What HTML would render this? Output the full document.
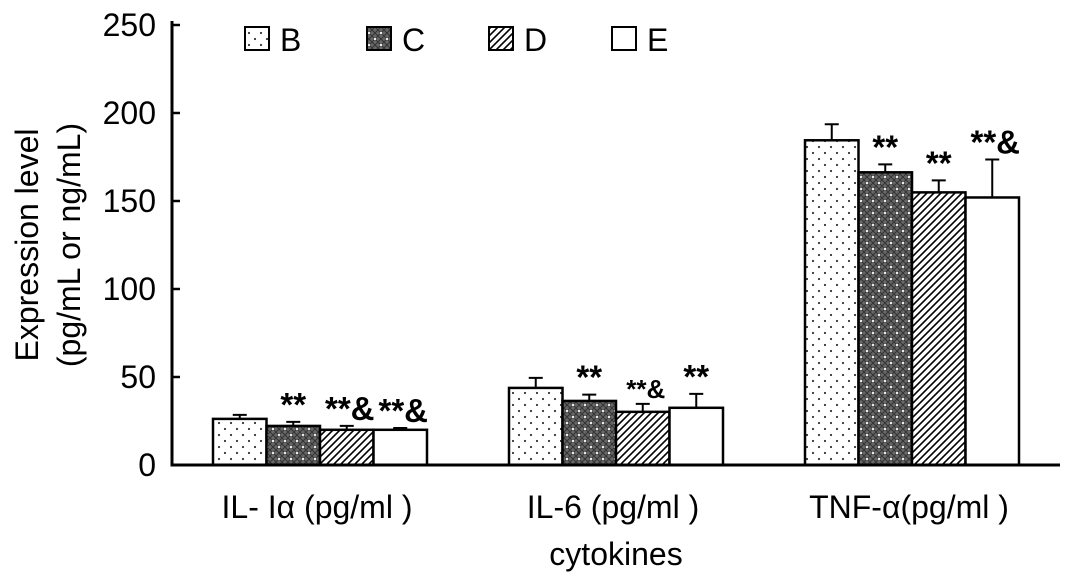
<!DOCTYPE html>
<html><head><meta charset="utf-8"><style>
html,body{margin:0;padding:0;background:#fff;}
svg{display:block;font-family:"Liberation Sans",Arial,sans-serif;}
</style></head><body>
<svg id="chart" width="1077" height="584" viewBox="0 0 1077 584" xmlns="http://www.w3.org/2000/svg">
<defs>
<pattern id="pB" patternUnits="userSpaceOnUse" width="12" height="12"><rect width="12" height="12" fill="#fff"/><circle cx="3" cy="3" r="1.1" fill="#333"/><circle cx="9" cy="9" r="1.1" fill="#333"/></pattern>
<pattern id="pC" patternUnits="userSpaceOnUse" width="12" height="12"><rect width="12" height="12" fill="#666"/><path d="M0 0L12 12M6 0L12 6M0 6L6 12M12 0L0 12M6 0L0 6M12 6L6 12" stroke="#333" stroke-width="1"/><circle cx="3" cy="3" r="1.1" fill="#fff"/><circle cx="9" cy="9" r="1.1" fill="#fff"/></pattern>
<pattern id="pD" patternUnits="userSpaceOnUse" width="7" height="7"><rect width="7" height="7" fill="#fff"/><path d="M-1 8L8 -1M-3 3L3 -3M4 10L10 4" stroke="#000" stroke-width="1.6"/></pattern>
</defs>
<g id="plot"></g>
</svg>
<script>
const categories = ["IL- Iα (pg/ml )", "IL-6 (pg/ml )", "TNF-α(pg/ml )"];
const seriesNames = ["B", "C", "D", "E"];
const valuesB = [26.2, 43.8, 184.5];
const valuesC = [22.2, 36.4, 166.3];
const valuesD = [20.0, 30.2, 154.9];
const valuesE = [20.0, 32.5, 152.0];
const errB = [2.3, 5.7, 9.1];
const errC = [2.3, 3.6, 4.5];
const errD = [2.2, 4.5, 6.8];
const errE = [1.0, 7.9, 21.6];
const labelsB = ["", "", ""];
const labelsC = ["**", "**", "**"];
const labelsD = ["**&", "**&", "**"];
const labelsE = ["**&", "**", "**&"];
const yTicks = [0, 50, 100, 150, 200, 250];

const NS = "http://www.w3.org/2000/svg";
const g = document.getElementById("plot");
const x0 = 172, x1 = 1060, yBase = 465, yTop = 25, yMax = 250;
const y = v => yBase - (v / yMax) * (yBase - yTop);
const groupW = (x1 - x0) / categories.length;
const barW = 53.5;
const xBar = (ci, si) => x0 + groupW * ci + groupW / 2 - 2 * barW + si * barW;
function el(tag, attrs, text) {
  const e = document.createElementNS(NS, tag);
  for (const k in attrs) e.setAttribute(k, attrs[k]);
  if (text !== undefined) e.textContent = text;
  g.appendChild(e);
  return e;
}
const allVals = [valuesB, valuesC, valuesD, valuesE];
const allErr = [errB, errC, errD, errE];
const allLab = [labelsB, labelsC, labelsD, labelsE];
const fills = ["url(#pB)", "url(#pC)", "url(#pD)", "#fff"];

yTicks.forEach(t => {
  const tl = el("line", {x1: x0, x2: x0 + 8, y1: y(t), y2: y(t), stroke: "#000", "stroke-width": 2.5});
  
  
  const tx = el("text", {x: 156, y: y(t) + 11, "text-anchor": "end", "font-size": 32}, String(t));
  
  
});

allVals.forEach((vals, si) => {
  vals.forEach((v, ci) => {
    const bx = xBar(ci, si);
    const r = el("rect", {x: bx, y: y(v), width: barW, height: yBase - y(v), fill: fills[si], stroke: "#000", "stroke-width": 2.5});
    
    
    const cx = bx + barW / 2, ye = y(v + allErr[si][ci]);
    const e1 = el("path", {d: `M${cx} ${y(v)}V${ye}M${cx - 7} ${ye}H${cx + 7}`, stroke: "#000", "stroke-width": 2, fill: "none"});
    
    
    const lab = allLab[si][ci];
    if (lab) {
      const small = (ci === 1 && si === 2);
      const t = el("text", {x: cx + (lab.length > 2 ? 3 : 0), y: ye - 6, "text-anchor": "middle", "font-size": small ? 26 : 33, "font-weight": "bold"}, lab);
      
      
    }
  });
});

const ax = el("path", {d: `M${x0} ${yTop - 4}V${yBase}H${x1}`, stroke: "#000", "stroke-width": 3, fill: "none"});



categories.forEach((c, ci) => {
  const t = el("text", {x: x0 + groupW * ci + groupW / 2 - 3, y: 518, "text-anchor": "middle", "font-size": 32}, c);
  
  
});
const xt = el("text", {x: 616, y: 565, "text-anchor": "middle", "font-size": 32}, "cytokines");


const yt1 = el("text", {x: 0, y: 0, transform: "translate(38 245) rotate(-90)", "text-anchor": "middle", "font-size": 32}, "Expression level");


const yt2 = el("text", {x: 0, y: 0, transform: "translate(80 245) rotate(-90)", "text-anchor": "middle", "font-size": 32}, "(pg/mL or ng/mL)");



const legX = [245, 367, 489, 612];
seriesNames.forEach((n, si) => {
  const b = el("rect", {x: legX[si], y: 27, width: 24, height: 23, fill: fills[si], stroke: "#000", "stroke-width": 2});
  
  
  const t = el("text", {x: legX[si] + 35, y: 51, "font-size": 32}, n);
  
  
});
</script>
</body></html>
